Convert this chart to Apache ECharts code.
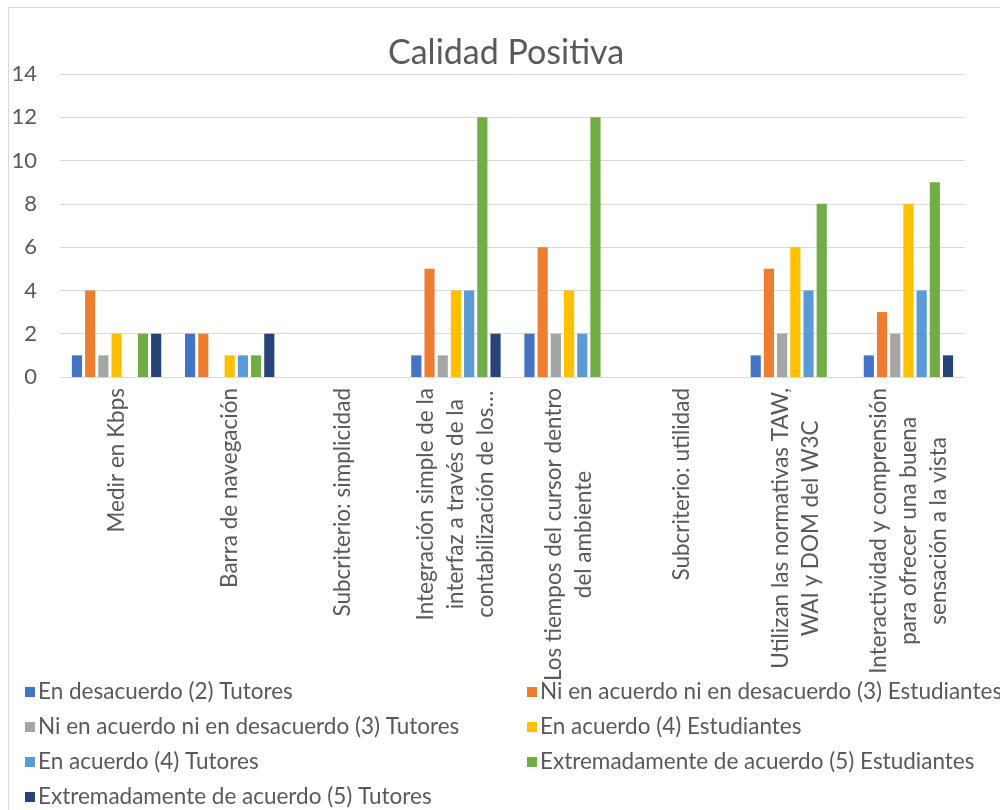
<!DOCTYPE html>
<html>
<head>
<meta charset="utf-8">
<script src="https://cdn.jsdelivr.net/npm/echarts@6/dist/echarts.min.js"></script>
<style>
  html, body { margin: 0; padding: 0; background: #fff; }
  #chart { width: 1000px; height: 810px; }
</style>
</head>
<body>
<div id="chart"></div>
<script>
// Criteria evaluated (line breaks as shown under the axis)
const categories = [
  'Medir en Kbps',
  'Barra de navegación',
  'Subcriterio: simplicidad',
  'Integración simple de la\ninterfaz a través de la\ncontabilización de los…',
  'Los tiempos del cursor dentro\ndel ambiente',
  'Subcriterio: utilidad',
  'Utilizan las normativas TAW,\nWAI y DOM del W3C',
  'Interactividad y comprensión\npara ofrecer una buena\nsensación a la vista'
];

const seriesNames = [
  'En desacuerdo (2) Tutores',
  'Ni en acuerdo ni en desacuerdo (3) Estudiantes',
  'Ni en acuerdo ni en desacuerdo (3) Tutores',
  'En acuerdo (4) Estudiantes',
  'En acuerdo (4) Tutores',
  'Extremadamente de acuerdo (5) Estudiantes',
  'Extremadamente de acuerdo (5) Tutores'
];

// Response counts per criterion
const desacuerdoTutores       = [1, 2, 0, 1, 2, 0, 1, 1];
const neutralEstudiantes      = [4, 2, 0, 5, 6, 0, 5, 3];
const neutralTutores          = [1, 0, 0, 1, 2, 0, 2, 2];
const acuerdoEstudiantes      = [2, 1, 0, 4, 4, 0, 6, 8];
const acuerdoTutores          = [0, 1, 0, 4, 2, 0, 4, 4];
const extremadoEstudiantes    = [2, 1, 0, 12, 12, 0, 8, 9];
const extremadoTutores        = [2, 2, 0, 2, 0, 0, 0, 1];

const yTicks = [0, 2, 4, 6, 8, 10, 12, 14];

const seriesValues = [
  desacuerdoTutores, neutralEstudiantes, neutralTutores,
  acuerdoEstudiantes, acuerdoTutores, extremadoEstudiantes, extremadoTutores
];
const colors = ['#4472C4', '#ED7D31', '#A5A5A5', '#FFC000', '#5B9BD5', '#70AD47', '#264478'];

const FONT = 'Lato, "Open Sans", sans-serif';
const TEXT = '#595959';

const chart = echarts.init(document.getElementById('chart'), null, { renderer: 'canvas' });

// Legend laid out in two columns, filled row by row
const legendColumnsX = [25, 527];
const legendFirstRowY = 680;
const legendRowStep = 35;
const legends = seriesNames.map((name, i) => ({
  orient: 'horizontal',
  left: legendColumnsX[i % 2],
  top: legendFirstRowY + Math.floor(i / 2) * legendRowStep,
  padding: 0,
  icon: 'rect',
  itemWidth: 10,
  itemHeight: 10,
  selectedMode: false,
  data: [name],
  textStyle: { fontFamily: FONT, fontSize: 22.5, lineHeight: 24, color: TEXT, padding: [0, 0, 0, -2] }
}));

chart.setOption({
  animation: false,
  color: colors,
  title: {
    text: 'Calidad Positiva',
    left: 383,
    top: 31,
    textStyle: { fontFamily: FONT, fontSize: 34, fontWeight: 'normal', color: TEXT }
  },
  graphic: [{
    type: 'rect',
    shape: { x: 8.5, y: 7.5, width: 1000, height: 810 },
    style: { fill: null, stroke: '#D9D9D9', lineWidth: 1 },
    silent: true
  }],
  legend: legends,
  grid: { left: 60, right: 35, top: 74, bottom: 433, containLabel: false },
  xAxis: {
    type: 'category',
    data: categories,
    axisLine: { lineStyle: { color: '#D9D9D9', width: 1 } },
    axisTick: { show: false },
    axisLabel: {
      interval: 0,
      rotate: 90,
      margin: 11,
      hideOverlap: false,
      formatter: v => v.split('\n').map(l => '{c|' + l + '}').join('\n'),
      rich: {
        c: { align: 'center', fontFamily: FONT, fontSize: 22.5, lineHeight: 30, color: TEXT }
      }
    }
  },
  yAxis: {
    type: 'value',
    min: 0,
    max: yTicks[yTicks.length - 1],
    interval: 2,
    axisLine: { show: false },
    axisTick: { show: false },
    splitLine: { lineStyle: { color: '#D9D9D9', width: 1 } },
    axisLabel: { margin: 23, fontFamily: FONT, fontSize: 22, color: TEXT }
  },
  series: seriesNames.map((name, i) => ({
    name,
    type: 'bar',
    data: seriesValues[i],
    barGap: '30%',
    barCategoryGap: '21%',
    itemStyle: { color: colors[i] }
  }))
});
</script>
</body>
</html>
